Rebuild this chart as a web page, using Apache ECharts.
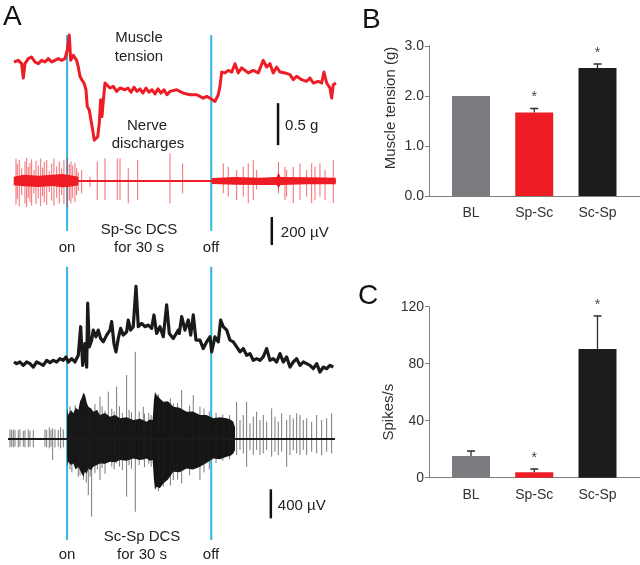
<!DOCTYPE html>
<html><head><meta charset="utf-8">
<script src="https://cdn.jsdelivr.net/npm/echarts@6/dist/echarts.min.js"></script>
<style>html,body{margin:0;padding:0;background:#fff}#c{width:640px;height:565px}</style>
</head><body><div id="c"></div>
<script>
const FONT = '"Liberation Sans", Arial, sans-serif';
// ---------- Panel B / C data ----------
const categories = ['BL', 'Sp-Sc', 'Sc-Sp'];
const tensionMean = [2.0, 1.67, 2.56];
const tensionErr = [0, 0.08, 0.08];
const tensionSig = [false, true, true];
const spikesMean = [15.2, 3.8, 90.3];
const spikesErr = [3.5, 2.3, 23.2];
const spikesSig = [false, true, true];
const barColors = ['#7b7c7f', '#ee1d25', '#1e1b1b'];

// ---------- Panel A data (time in s, 0 = stimulation on) ----------
const stimTimes = [0, 30];
// muscle tension (g) during Sp-Sc DCS
const tensionSpSc = [[-11.05,2.00],[-10.15,2.02],[-9.45,1.98],[-9.11,1.81],[-8.76,1.98],[-8.07,2.04],[-7.37,2.06],[-6.68,2.00],[-5.99,1.98],[-5.29,2.02],[-4.60,2.00],[-3.91,2.04],[-3.20,2.00],[-2.52,2.02],[-1.83,2.04],[-1.12,2.02],[-0.44,2.04],[0.04,2.14],[0.46,2.32],[0.75,2.02],[1.29,2.08],[2.00,2.02],[2.33,1.94],[2.68,1.83],[3.04,1.79],[3.52,1.75],[3.93,1.67],[4.20,1.47],[4.62,1.43],[4.97,1.31],[5.33,1.19],[5.66,1.07],[6.01,1.05],[6.37,1.11],[6.70,1.27],[6.99,1.55],[7.26,1.35],[7.53,1.53],[7.89,1.75],[8.24,1.73],[8.93,1.69],[9.61,1.71],[10.32,1.65],[11.01,1.69],[12.05,1.67],[12.67,1.69],[13.30,1.64],[13.92,1.70],[14.54,1.65],[15.17,1.68],[15.79,1.63],[16.42,1.69],[17.04,1.64],[17.67,1.67],[18.29,1.62],[18.91,1.68],[19.54,1.63],[20.16,1.67],[20.79,1.61],[21.41,1.65],[22.80,1.67],[24.18,1.63],[25.57,1.61],[26.97,1.61],[28.34,1.57],[29.05,1.59],[29.73,1.57],[30.77,1.53],[31.46,1.61],[31.81,1.71],[32.17,1.88],[32.86,1.87],[33.54,1.90],[34.25,1.88],[34.94,1.98],[35.62,1.87],[36.33,1.93],[37.02,1.90],[37.70,1.87],[38.74,1.90],[39.78,1.87],[40.82,2.02],[41.53,1.94],[42.22,1.98],[42.90,1.87],[43.61,1.94],[44.30,1.88],[45.34,1.87],[46.38,1.85],[47.07,1.79],[47.77,1.83],[48.81,1.79],[49.85,1.77],[50.54,1.81],[51.23,1.75],[52.27,1.77],[52.98,1.75],[53.45,1.88],[54.02,1.75],[54.70,1.69],[55.06,1.57],[55.39,1.73],[55.95,1.75]];
// muscle tension (g) during Sc-Sp DCS
const tensionScSp = [[-11.05,2.00],[-10.49,1.98],[-9.80,2.00],[-9.11,1.96],[-8.41,2.00],[-7.72,1.98],[-7.03,1.94],[-6.33,2.00],[-5.64,1.98],[-4.95,1.96],[-4.24,2.02],[-3.56,1.99],[-2.87,2.02],[-2.16,2.00],[-1.48,2.04],[-0.79,2.02],[-0.23,2.06],[0.25,2.00],[0.96,2.04],[1.64,2.00],[2.00,1.98],[2.33,2.08],[2.83,2.42],[3.25,1.96],[3.72,2.22],[4.08,1.94],[4.29,2.70],[4.62,2.18],[5.12,2.26],[5.45,2.38],[6.01,2.30],[6.49,2.38],[6.99,2.28],[7.53,2.24],[8.24,2.32],[8.93,2.38],[9.28,2.48],[9.76,2.22],[10.17,2.12],[10.65,2.28],[11.15,2.40],[11.69,2.32],[12.40,2.36],[12.73,2.50],[13.23,2.38],[13.77,2.42],[14.34,2.90],[14.82,2.42],[15.52,2.46],[16.21,2.42],[16.90,2.44],[17.60,2.40],[18.08,2.56],[18.64,2.34],[19.33,2.42],[20.02,2.30],[20.72,2.68],[21.27,2.34],[22.10,2.28],[23.14,2.38],[23.35,2.34],[23.85,2.54],[24.53,2.38],[25.22,2.50],[25.72,2.32],[26.26,2.56],[26.82,2.26],[27.65,2.26],[28.34,2.16],[29.05,2.24],[29.73,2.30],[30.09,2.12],[30.77,2.30],[31.46,2.24],[31.96,2.50],[32.50,2.42],[33.21,2.38],[33.90,2.26],[34.58,2.24],[35.29,2.18],[35.98,2.12],[36.66,2.16],[37.37,2.08],[38.06,2.10],[38.74,2.02],[39.45,2.04],[40.14,2.02],[40.82,2.06],[41.53,2.16],[42.22,2.02],[42.90,2.04],[43.61,2.00],[44.30,2.10],[44.99,2.00],[45.69,2.06],[46.38,1.94],[47.07,2.00],[47.77,2.04],[48.46,1.96],[49.15,2.00],[49.85,1.98],[50.54,1.96],[51.23,1.92],[51.94,1.98],[52.62,1.88],[53.31,1.94],[54.02,1.92],[54.70,1.96],[55.39,1.94]];
// nerve discharges (µV): [time, positive peak, negative peak]
const nerveSpScSpikes = [[-10.63,160,-170],[-10.36,120,-130],[-9.95,150,-180],[-9.45,90,-100],[-8.76,140,-160],[-8.41,165,-185],[-8.07,100,-120],[-7.72,130,-150],[-7.37,155,-175],[-6.89,80,-90],[-6.47,145,-165],[-5.99,110,-125],[-5.49,160,-180],[-5.08,95,-110],[-4.74,135,-150],[-4.24,150,-170],[-3.70,70,-80],[-3.20,125,-140],[-2.73,160,-175],[-2.16,105,-120],[-1.62,140,-160],[-1.12,90,-100],[-0.65,150,-165],[0.04,165,-186],[0.46,120,-140],[0.81,140,-160],[1.17,110,-120],[1.64,130,-150],[2.00,90,-100],[2.33,60,-70],
 [3.04,79,-88],[4.76,31,-41],[6.28,138,-136],[7.89,162,-136],[10.45,162,-136],[11.01,162,-136],[12.73,91,-159],[14.69,150,-136],[21.41,198,-159],[24.05,126,-88],
 [32.50,126,-88],[33.54,102,-112],[35.29,79,-136],[36.66,102,-112],[37.70,126,-159],[38.74,150,-136],[39.45,79,-60],[44.0,136,-88],[45.34,102,-136],[45.69,79,-112],[47.07,102,-159],[48.46,126,-136],[49.85,79,-112],[50.89,126,-159],[51.58,102,-136],[52.62,126,-112],[53.68,79,-136],[55.39,150,-159]];
const nerveSpScBandPre = [[-11.1,30,-30],[-9,45,-38],[-6,38,-42],[-3,45,-36],[-1,50,-45],[1,40,-40],[2.3,30,-30]];
const nerveSpScBandPost = [[30.1,22,-22],[35,28,-26],[40,24,-28],[43.6,28,-28],[44.0,60,-50],[44.4,28,-28],[50,26,-24],[55.9,24,-24]];
const nerveScSpBand = [[0.0,308,-244],[0.13,420,-380],[0.26,331,-313],[0.8,400,-360],[1.30,354,-336],[1.8,430,-420],[2.34,400,-382],[2.7,520,-430],[3.03,561,-474],[3.4,640,-520],[3.72,607,-451],[4.1,500,-480],[4.42,446,-405],[5.0,420,-430],[5.46,377,-382],[6.2,400,-360],[6.85,331,-336],[7.9,360,-340],[8.93,308,-313],[10.0,330,-320],[11.01,285,-290],[12.4,300,-300],[13.78,262,-267],[15.2,280,-290],[16.56,239,-267],[17.2,270,-300],[17.80,262,-290],[18.08,538,-566],[18.3,650,-700],[18.64,607,-658],[19.3,560,-680],[20.02,515,-612],[21.0,520,-560],[22.10,446,-451],[23.4,430,-460],[24.88,377,-405],[26.2,380,-420],[27.65,331,-382],[29.0,330,-330],[30.43,285,-267],[31.8,300,-280],[33.20,285,-244],[34.0,270,-230],[34.59,239,-198],[34.94,161,-152]];
const nerveScSpSpikes = [[-11.88,133,-115],[-11.53,124,-106],[-11.19,133,-115],[-10.84,124,-106],[-10.15,124,-115],[-9.80,133,-106],[-9.11,115,-106],[-8.76,124,-115],[-8.07,133,-115],[-7.72,115,-106],[-7.03,124,-115],[-4.60,133,-106],[-4.25,124,-115],[-3.70,161,-129],[-3.35,124,-106],[-3.00,147,-290],[-2.52,133,-115],[-1.82,124,-106],[-1.34,161,-129],[-0.78,133,-115],
 [14.20,1204,-1003],[12.39,883,-796],[10.31,722,-336],[8.58,653,-313],[6.85,584,-566],[5.11,400,-1072],[4.42,446,-773],[2.34,400,-520],[26.26,607,-382],[23.84,676,-612],[27.65,446,-566],[20.02,469,-658],[22.10,492,-566],[15.86,446,-290],
 [0.6,450,-420],[1.0,380,-460],[1.7,470,-400],[2.7,420,-500],[3.4,520,-560],[4.0,480,-600],[4.8,430,-520],[5.8,480,-470],[6.3,400,-420],[7.3,450,-400],[7.9,390,-480],[9.3,420,-380],[9.8,380,-420],[10.9,450,-380],[11.5,360,-430],[12.9,400,-360],[13.4,370,-410],[15.0,380,-360],[16.1,350,-390],[17.0,360,-340],[17.5,330,-380],[19.0,620,-720],[21.5,560,-640],[23.0,500,-560],[25.5,460,-500],[28.5,420,-460],[29.6,380,-420],[31.0,360,-330],[32.4,340,-300],[33.8,330,-280],
 [35.28,515,-221],[35.98,262,-152],[36.67,331,-198],[37.36,515,-382],[38.06,216,-152],[38.75,308,-221],[39.44,377,-152],[40.14,262,-221],[40.83,331,-198],[41.53,239,-152],[42.57,423,-244],[43.26,308,-175],[43.95,239,-221],[44.65,354,-175],[45.69,262,-382],[46.38,331,-221],[47.07,285,-152],[47.77,354,-198],[48.46,331,-221],[49.15,262,-152],[49.85,285,-221],[50.89,239,-175],[51.93,331,-198],[52.97,262,-221],[54.01,285,-175],[55.05,354,-198]];
// scale bars: [time, from, to]
const tensionScale = [43.9, 1.01, 1.51];
const nerveScaleSpSc = [42.6, -457, -257];
const nerveScaleScSp = [42.4, -1094, -694];

// ---------- helpers ----------
const RED = '#ee1c24', BLK = '#1a1a1a', BLUE = '#35b4e4';
const X_TRACE = {type:'value', min:-12.5, max:56, show:false};
const TRACE_LEFT = 7, TRACE_W = 329.2;

function spikeRender(color, width, opacity){
  return function(params, api){
    const a = api.coord([api.value(0), api.value(1)]);
    const b = api.coord([api.value(0), api.value(2)]);
    return {type:'line', shape:{x1:a[0],y1:a[1],x2:b[0],y2:b[1]}, style:{stroke:color, lineWidth:width, opacity:opacity}};
  };
}
function bandRender(arr, color){
  return function(params, api){
    if (params.dataIndex !== 0) return null;
    const up = arr.map(d => api.coord([d[0], d[1]]));
    const lo = arr.slice().reverse().map(d => api.coord([d[0], d[2]]));
    return {type:'polygon', shape:{points: up.concat(lo)}, style:{fill:color}};
  };
}
function scaleRender(label, dx){
  return function(params, api){
    const a = api.coord([api.value(0), api.value(1)]);
    const b = api.coord([api.value(0), api.value(2)]);
    return {type:'group', children:[
      {type:'line', shape:{x1:a[0],y1:a[1],x2:b[0],y2:b[1]}, style:{stroke:'#111', lineWidth:2.5}},
      {type:'text', x:a[0]+dx, y:(a[1]+b[1])/2+2, style:{text:label, font:'15px '+FONT, fill:'#222', textVerticalAlign:'middle'}}
    ]};
  };
}
function errRender(params, api){
  const x = api.value(0), m = api.value(1), e = api.value(2), s = api.value(3);
  const a = api.coord([x, m]);
  const children = [];
  let topY = a[1];
  if (e > 0){
    const b = api.coord([x, m + e]);
    topY = b[1];
    children.push({type:'line', shape:{x1:a[0],y1:a[1],x2:b[0],y2:b[1]}, style:{stroke:'#2b2b2b', lineWidth:1.3}});
    children.push({type:'line', shape:{x1:b[0]-4,y1:b[1],x2:b[0]+4,y2:b[1]}, style:{stroke:'#2b2b2b', lineWidth:1.5}});
  }
  if (s){
    children.push({type:'text', x:a[0], y:topY-4, style:{text:'*', font:'14px '+FONT, fill:'#444', textAlign:'center', textVerticalAlign:'bottom'}});
  }
  return {type:'group', children};
}
function stimRender(params, api){
  const a = api.coord([api.value(0), 0]);
  const b = api.coord([api.value(0), 1]);
  return {type:'line', shape:{x1:a[0],y1:a[1],x2:b[0],y2:b[1]}, style:{stroke:BLUE, lineWidth:2}};
}

const barX = (gi) => ({gridIndex:gi, type:'value', min:-0.664, max:2.672,
  axisLine:{show:true, onZero:false, lineStyle:{color:'#7f7f7f', width:1}}, axisTick:{show:false}, splitLine:{show:false},
  axisLabel:{customValues:[0,1,2], formatter:(v)=>categories[Math.round(v)], fontFamily:FONT, fontSize:14, color:'#333', margin:10}});

const option = {
  animation:false,
  backgroundColor:'#fff',
  textStyle:{fontFamily:FONT},
  grid:[
    {left:429, top:46, width:211, height:150},           // 0 B
    {left:429, top:306.7, width:211, height:171},        // 1 C
    {left:TRACE_LEFT, width:TRACE_W, top:28.4, height:126},   // 2 tension Sp-Sc
    {left:TRACE_LEFT, width:TRACE_W, top:153, height:56},     // 3 nerve Sp-Sc
    {left:TRACE_LEFT, width:TRACE_W, top:278, height:100.8},  // 4 tension Sc-Sp
    {left:TRACE_LEFT, width:TRACE_W, top:344.8, height:181.2},// 5 nerve Sc-Sp
    {left:TRACE_LEFT, width:TRACE_W, top:35, height:196},     // 6 stim top
    {left:TRACE_LEFT, width:TRACE_W, top:266.7, height:273.3} // 7 stim bottom
  ],
  xAxis:[
    barX(0), barX(1),
    Object.assign({gridIndex:2}, X_TRACE), Object.assign({gridIndex:3}, X_TRACE),
    Object.assign({gridIndex:4}, X_TRACE), Object.assign({gridIndex:5}, X_TRACE),
    Object.assign({gridIndex:6}, X_TRACE), Object.assign({gridIndex:7}, X_TRACE)
  ],
  yAxis:[
    {gridIndex:0, type:'value', min:0, max:3, interval:1,
     name:'Muscle tension (g)', nameLocation:'middle', nameGap:31, nameRotate:90,
     nameTextStyle:{fontFamily:FONT, fontSize:15, color:'#333', padding:[0,0,0,26]},
     axisLine:{show:true, onZero:false, lineStyle:{color:'#7f7f7f'}}, axisTick:{show:true, length:4, lineStyle:{color:'#7f7f7f'}},
     splitLine:{show:false}, axisLabel:{formatter:(v)=>v.toFixed(1), fontFamily:FONT, fontSize:14, color:'#333', margin:5}},
    {gridIndex:1, type:'value', min:0, max:120, interval:40,
     name:'Spikes/s', nameLocation:'middle', nameGap:31, nameRotate:90,
     nameTextStyle:{fontFamily:FONT, fontSize:15, color:'#333', padding:[0,40,0,0]},
     axisLine:{show:true, onZero:false, lineStyle:{color:'#7f7f7f'}}, axisTick:{show:true, length:4, lineStyle:{color:'#7f7f7f'}},
     splitLine:{show:false}, axisLabel:{fontFamily:FONT, fontSize:14, color:'#333', margin:5}},
    {gridIndex:2, type:'value', min:0.9, max:2.4, show:false},
    {gridIndex:3, type:'value', min:-200, max:200, show:false},
    {gridIndex:4, type:'value', min:1.8, max:3.0, show:false},
    {gridIndex:5, type:'value', min:-1200, max:1300, show:false},
    {gridIndex:6, type:'value', min:0, max:1, show:false},
    {gridIndex:7, type:'value', min:0, max:1, show:false}
  ],
  series:[
    // Panel B
    {type:'bar', xAxisIndex:0, yAxisIndex:0, barWidth:38,
     data: tensionMean.map((v,i)=>({value:[i,v], itemStyle:{color:barColors[i]}}))},
    {type:'custom', xAxisIndex:0, yAxisIndex:0, renderItem:errRender, clip:false, z:5,
     encode:{x:0, y:1}, data: tensionMean.map((v,i)=>[i, v, tensionErr[i], tensionSig[i]?1:0])},
    // Panel C
    {type:'bar', xAxisIndex:1, yAxisIndex:1, barWidth:38,
     data: spikesMean.map((v,i)=>({value:[i,v], itemStyle:{color:barColors[i]}}))},
    {type:'custom', xAxisIndex:1, yAxisIndex:1, renderItem:errRender, clip:false, z:5,
     encode:{x:0, y:1}, data: spikesMean.map((v,i)=>[i, v, spikesErr[i], spikesSig[i]?1:0])},
    // stimulus markers
    {type:'custom', xAxisIndex:6, yAxisIndex:6, renderItem:stimRender, clip:false, z:1, encode:{x:0}, data: stimTimes.map(t=>[t])},
    {type:'custom', xAxisIndex:7, yAxisIndex:7, renderItem:stimRender, clip:false, z:1, encode:{x:0}, data: stimTimes.map(t=>[t])},
    // Sp-Sc tension
    {type:'line', xAxisIndex:2, yAxisIndex:2, data:tensionSpSc, symbol:'none', clip:false, z:3,
     lineStyle:{color:RED, width:3, join:'round'}},
    // Sp-Sc nerve
    {type:'line', xAxisIndex:3, yAxisIndex:3, data:[[-11.05,0],[55.95,0]], symbol:'none', clip:false, z:2,
     lineStyle:{color:RED, width:2}},
    {type:'custom', xAxisIndex:3, yAxisIndex:3, renderItem:bandRender(nerveSpScBandPre, RED), clip:false, z:2, encode:{x:0,y:[1,2]}, data:nerveSpScBandPre},
    {type:'custom', xAxisIndex:3, yAxisIndex:3, renderItem:bandRender(nerveSpScBandPost, RED), clip:false, z:2, encode:{x:0,y:[1,2]}, data:nerveSpScBandPost},
    {type:'custom', xAxisIndex:3, yAxisIndex:3, renderItem:spikeRender(RED, 1, 0.65), clip:false, z:2, encode:{x:0,y:[1,2]}, data:nerveSpScSpikes},
    // Sc-Sp tension
    {type:'line', xAxisIndex:4, yAxisIndex:4, data:tensionScSp, symbol:'none', clip:false, z:3,
     lineStyle:{color:BLK, width:3.2, join:'round'}},
    // Sc-Sp nerve
    {type:'line', xAxisIndex:5, yAxisIndex:5, data:[[-12.3,0],[55.74,0]], symbol:'none', clip:false, z:2,
     lineStyle:{color:BLK, width:1.8}},
    {type:'custom', xAxisIndex:5, yAxisIndex:5, renderItem:bandRender(nerveScSpBand, '#151515'), clip:false, z:2, encode:{x:0,y:[1,2]}, data:nerveScSpBand},
    {type:'custom', xAxisIndex:5, yAxisIndex:5, renderItem:spikeRender('#222', 1, 0.6), clip:false, z:2, encode:{x:0,y:[1,2]}, data:nerveScSpSpikes},
    // scale bars
    {type:'custom', xAxisIndex:2, yAxisIndex:2, renderItem:scaleRender('0.5 g', 7), clip:false, z:4, encode:{x:0,y:[1,2]}, data:[tensionScale]},
    {type:'custom', xAxisIndex:3, yAxisIndex:3, renderItem:scaleRender('200 µV', 9), clip:false, z:4, encode:{x:0,y:[1,2]}, data:[nerveScaleSpSc]},
    {type:'custom', xAxisIndex:5, yAxisIndex:5, renderItem:scaleRender('400 µV', 7), clip:false, z:4, encode:{x:0,y:[1,2]}, data:[nerveScaleScSp]}
  ],
  graphic:[
    {type:'text', x:3, y:3, style:{text:'A', font:'28px '+FONT, fill:'#111'}},
    {type:'text', x:362, y:6, style:{text:'B', font:'28px '+FONT, fill:'#111'}},
    {type:'text', x:358, y:282, style:{text:'C', font:'28px '+FONT, fill:'#111'}},
    {type:'text', x:139, y:38, style:{text:'Muscle', font:'15px '+FONT, fill:'#222', textAlign:'center', textVerticalAlign:'middle'}},
    {type:'text', x:139, y:57, style:{text:'tension', font:'15px '+FONT, fill:'#222', textAlign:'center', textVerticalAlign:'middle'}},
    {type:'text', x:147, y:126, style:{text:'Nerve', font:'15px '+FONT, fill:'#222', textAlign:'center', textVerticalAlign:'middle'}},
    {type:'text', x:148, y:144, style:{text:'discharges', font:'15px '+FONT, fill:'#222', textAlign:'center', textVerticalAlign:'middle'}},
    {type:'text', x:139, y:230, style:{text:'Sp-Sc DCS', font:'15px '+FONT, fill:'#222', textAlign:'center', textVerticalAlign:'middle'}},
    {type:'text', x:139, y:248, style:{text:'for 30 s', font:'15px '+FONT, fill:'#222', textAlign:'center', textVerticalAlign:'middle'}},
    {type:'text', x:67, y:248, style:{text:'on', font:'15px '+FONT, fill:'#222', textAlign:'center', textVerticalAlign:'middle'}},
    {type:'text', x:211, y:248, style:{text:'off', font:'15px '+FONT, fill:'#222', textAlign:'center', textVerticalAlign:'middle'}},
    {type:'text', x:142, y:537, style:{text:'Sc-Sp DCS', font:'15px '+FONT, fill:'#222', textAlign:'center', textVerticalAlign:'middle'}},
    {type:'text', x:142, y:555, style:{text:'for 30 s', font:'15px '+FONT, fill:'#222', textAlign:'center', textVerticalAlign:'middle'}},
    {type:'text', x:67, y:555, style:{text:'on', font:'15px '+FONT, fill:'#222', textAlign:'center', textVerticalAlign:'middle'}},
    {type:'text', x:211, y:555, style:{text:'off', font:'15px '+FONT, fill:'#222', textAlign:'center', textVerticalAlign:'middle'}}
  ]
};
const chart = echarts.init(document.getElementById('c'), null, {renderer:'canvas'});
chart.setOption(option);
</script></body></html>
